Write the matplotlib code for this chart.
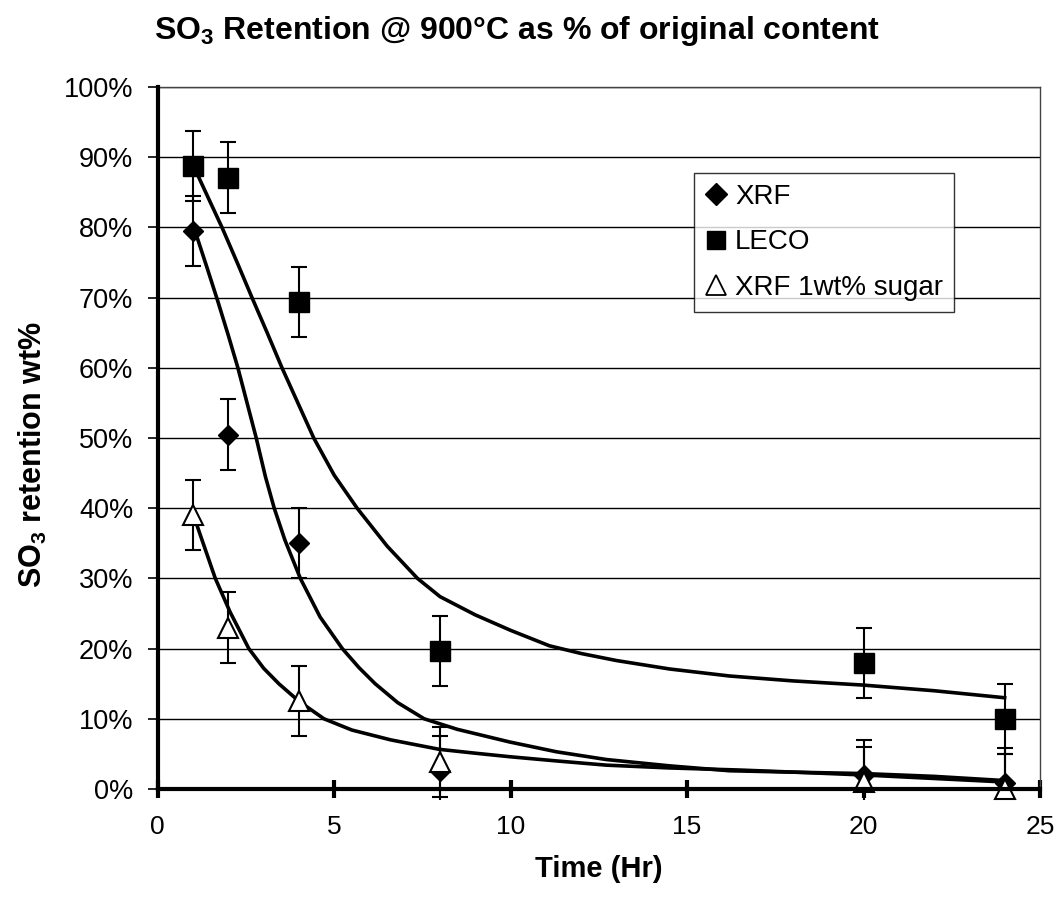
import numpy as np
import matplotlib
matplotlib.use("Agg")
import matplotlib.pyplot as plt
from matplotlib.ticker import PercentFormatter, MultipleLocator
from matplotlib.lines import Line2D
from matplotlib.patches import Rectangle

plt.rcParams['font.family'] = ['Liberation Sans', 'DejaVu Sans']
plt.rcParams['mathtext.fontset'] = 'custom'
plt.rcParams['mathtext.rm'] = 'Liberation Sans'
plt.rcParams['mathtext.bf'] = 'Liberation Sans:bold'

# measured points (time in hr, retention in %)
time_pts = [1, 2, 4, 8, 20, 24]
xrf = [79.5, 50.5, 35.1, 2.5, 2.0, 0.8]
leco = [88.8, 87.1, 69.4, 19.7, 17.9, 10.0]
xrf_sugar = [39.0, 23.0, 12.5, 3.9, 1.0, 0.0]
err = 5.0

# fitted curves
leco_fit_x = [1.1, 1.45, 1.82, 2.25, 2.67, 3.1, 3.52, 3.97, 4.42, 5.0, 5.65, 6.5, 7.36, 8.0,
              9.0, 10, 11.1, 12, 13, 14.5, 16.2, 18, 20, 22, 24]
leco_fit_y = [87.8, 84, 80, 75, 70, 65, 60, 55, 50, 44.7, 40, 34.6, 30, 27.4,
              24.8, 22.6, 20.4, 19.3, 18.3, 17.1, 16.1, 15.4, 14.8, 14.0, 13.0]

xrf_fit_x = [1.12, 1.4, 1.7, 2.0, 2.27, 2.53, 2.79, 3.05, 3.3, 3.6, 4.04, 4.6, 5.23, 5.7,
             6.16, 6.8, 7.55, 8.49, 9.97, 11.3, 12.71, 14.5, 16.2, 18, 20, 22, 24]
xrf_fit_y = [78.5, 74.2, 69.5, 64.6, 60, 55, 50, 44.5, 40, 35.5, 30, 24.5, 20, 17.3,
             15, 12.3, 10, 8.5, 6.7, 5.3, 4.2, 3.3, 2.6, 2.4, 2.2, 1.8, 1.2]

sugar_fit_x = [1.06, 1.3, 1.63, 2.05, 2.58, 3.0, 3.43, 4.0, 4.71, 5.5, 6.6, 7.98, 9.0,
               9.97, 11.3, 12.71, 14.5, 16.5, 18.3, 20, 22, 24]
sugar_fit_y = [38.3, 34.8, 30, 25.2, 20, 17.2, 15, 12.5, 10, 8.4, 7.0, 5.65, 5.1,
               4.6, 4.0, 3.4, 3.0, 2.7, 2.35, 2.0, 1.5, 1.0]

fig = plt.figure(figsize=(10.59, 9.01), dpi=100)
ax = fig.add_axes([0.149, 0.1243, 0.833, 0.7791])

ax.yaxis.grid(True, color='black', linewidth=1.0)
ax.set_axisbelow(True)

for fx, fy in [(leco_fit_x, leco_fit_y), (xrf_fit_x, xrf_fit_y), (sugar_fit_x, sugar_fit_y)]:
    ax.plot(fx, fy, color='black', lw=2.6, zorder=3, solid_joinstyle='round')

# markers and bars may hang a little below the x axis, like the original
clip_box = Rectangle((0, -0.015), 1, 1.015, transform=ax.transAxes, visible=False)
ax.add_patch(clip_box)

kw = dict(yerr=err, ecolor='black', elinewidth=1.5, capsize=5.5, capthick=1.5,
          linestyle='none', zorder=4)
series = [
    (xrf, dict(marker='D', ms=10.5, mfc='black', mec='black')),
    (leco, dict(marker='s', ms=14.5, mfc='black', mec='black')),
    (xrf_sugar, dict(marker='^', ms=15, mfc='white', mec='black', mew=1.5)),
]
for vals, mk in series:
    eb = ax.errorbar(time_pts, vals, **mk, **kw)
    for art in [eb[0], *eb[1], *eb[2]]:
        art.set_clip_path(clip_box)

ax.set_xlim(0, 25)
ax.set_ylim(0, 100)
ax.xaxis.set_major_locator(MultipleLocator(5))
ax.yaxis.set_major_locator(MultipleLocator(10))
ax.yaxis.set_major_formatter(PercentFormatter(decimals=0))

for s in ['left', 'bottom']:
    ax.spines[s].set_linewidth(3)
    ax.spines[s].set_zorder(5)
for s in ['top', 'right']:
    ax.spines[s].set_linewidth(1.0)
    ax.spines[s].set_color('#444444')

ax.tick_params(axis='y', direction='out', length=7.5, width=1.2, pad=10, labelsize=19.5)
ax.tick_params(axis='x', direction='inout', length=13, width=3, pad=12, labelsize=19)

ax.set_xlabel('Time (Hr)', fontsize=21, fontweight='bold', labelpad=12)
ax.set_ylabel(r'SO$_\mathbf{3}$ retention wt%', fontsize=22, fontweight='bold')
ax.yaxis.set_label_coords(-0.123, 0.476)
fig.text(0.488, 0.9656, r'SO$_\mathbf{3}$ Retention @ 900°C as % of original content',
         fontsize=23, fontweight='bold', ha='center', va='center')

handles = [
    Line2D([], [], linestyle='none', marker='D', ms=11, mfc='black', mec='black'),
    Line2D([], [], linestyle='none', marker='s', ms=13, mfc='black', mec='black'),
    Line2D([], [], linestyle='none', marker='^', ms=15, mfc='white', mec='black', mew=1.3),
]
labels = ['XRF', 'LECO', 'XRF 1wt% sugar']
leg = ax.legend(handles, labels, loc='upper left', bbox_to_anchor=(0.608, 0.878),
                fontsize=20, frameon=True, fancybox=False, handlelength=0.8,
                handletextpad=0.28, borderpad=0.4, labelspacing=0.7, borderaxespad=0)
leg.get_frame().set_edgecolor('black')
leg.get_frame().set_linewidth(1.0)
leg.set_zorder(6)

fig.savefig('out.png', dpi=100)
